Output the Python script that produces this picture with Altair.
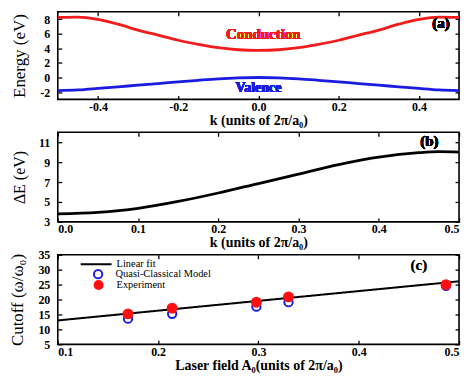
import altair as alt
import pandas as pd

FONT = "Liberation Serif"
RED = "#f21c1c"
BLUE = "#1c1ce0"

# ---------------- data ----------------
k_band = [-0.5, -0.45, -0.4, -0.35, -0.3, -0.25, -0.2, -0.15, -0.1, -0.05, 0.0,
          0.05, 0.1, 0.15, 0.2, 0.25, 0.3, 0.35, 0.4, 0.45, 0.5]
conduction = [8.22, 8.28, 7.95, 7.3, 6.5, 5.8, 5.1, 4.55, 4.1, 3.8, 3.7,
              3.8, 4.1, 4.55, 5.1, 5.8, 6.5, 7.3, 7.95, 8.28, 8.22]
valence = [-1.8, -1.7, -1.5, -1.28, -1.05, -0.83, -0.6, -0.38, -0.18, -0.05, 0.0,
           -0.05, -0.18, -0.38, -0.6, -0.83, -1.05, -1.28, -1.5, -1.7, -1.8]

k_gap = [0.0, 0.05, 0.1, 0.15, 0.2, 0.25, 0.3, 0.35, 0.4, 0.45, 0.475, 0.5]
delta_e = [3.8, 3.95, 4.35, 5.05, 5.9, 6.85, 7.8, 8.75, 9.5, 9.95, 10.05, 10.0]

fit_a0 = [0.1, 0.5]
fit_cutoff = [13.0, 26.1]
a0_points = [0.17, 0.214, 0.298, 0.33, 0.487]
qc_cutoff = [13.6, 15.2, 17.6, 19.1, 24.6]
exp_cutoff = [15.2, 17.1, 19.1, 20.9, 25.0]

ticks_k_a = [-0.4, -0.2, 0.0, 0.2, 0.4]
ticks_e_a = [-2, 0, 2, 4, 6, 8]
ticks_k_b = [0.0, 0.1, 0.2, 0.3, 0.4, 0.5]
ticks_de_b = [3, 5, 7, 9, 11]
ticks_a0_c = [0.1, 0.2, 0.3, 0.4, 0.5]
ticks_cut_c = [5, 10, 15, 20, 25, 30, 35]

W = 403
HA, HB, HC = 88, 90, 90
GAP = 33

tick_style = dict(domain=False, grid=False, tickSize=4, tickWidth=1.3,
                  tickColor="black", offset=-4)
label_style = dict(labelFont=FONT, labelFontSize=12, labelFontWeight="bold",
                   labelColor="black", titleFont=FONT, titleColor="black")


def lab_expr(fmt):
    return "replace(format(datum.value, '" + fmt + "'), '\u2212', '-')"


def xaxis(values, title, fmt, lp=2, tp=1):
    return alt.Axis(orient="bottom", values=values, title=title,
                    labelExpr=lab_expr(fmt), labelPadding=lp, titlePadding=tp,
                    titleFontSize=14, titleFontWeight="bold",
                    **tick_style, **label_style)


def yaxis(values, title, fmt, size=17, tp=11):
    return alt.Axis(orient="left", values=values, title=title,
                    labelExpr=lab_expr(fmt), labelPadding=8, titlePadding=tp,
                    titleFontSize=size, titleFontWeight="normal",
                    **tick_style, **label_style)


def mirror_x(values):
    return alt.Axis(orient="top", values=values, labels=False, title=None, **tick_style)


def mirror_y(values):
    return alt.Axis(orient="right", values=values, labels=False, title=None, **tick_style)


def label_layer(df, text, x, y, color, size):
    return alt.Chart(df).mark_text(text=text, font=FONT, fontSize=size,
                                   fontWeight="bold", color=color).encode(
        x=alt.XDatum(x, axis=None), y=alt.YDatum(y, axis=None))


# ---------------- panel (a) ----------------
df_a = pd.DataFrame({"k": k_band, "Conduction": conduction, "Valence": valence})
sx_a = alt.Scale(domain=[-0.5, 0.5], nice=False)
sy_a = alt.Scale(domain=[-3, 9], nice=False)
base_a = alt.Chart(df_a)
cond = base_a.mark_line(color=RED, strokeWidth=2.8, interpolate="monotone").encode(
    x=alt.X("k:Q", scale=sx_a, axis=xaxis(ticks_k_a, "k (units of 2\u03c0/a\u2080)", ".1f")),
    y=alt.Y("Conduction:Q", scale=sy_a, axis=yaxis(ticks_e_a, "Energy (eV)", "d")),
)
val = base_a.mark_line(color=BLUE, strokeWidth=2.8, interpolate="monotone").encode(
    x=alt.X("k:Q", scale=sx_a, axis=None),
    y=alt.Y("Valence:Q", scale=sy_a, axis=None),
)
mir_a = base_a.mark_line(opacity=0).encode(
    x=alt.X("k:Q", scale=sx_a, axis=mirror_x(ticks_k_a)),
    y=alt.Y("Conduction:Q", scale=sy_a, axis=mirror_y(ticks_e_a)),
)
panel_a = alt.layer(
    cond, val, mir_a,
    label_layer(df_a, "Conduction", 0.012, 6.0, RED, 15),
    label_layer(df_a, "Valence", 0.0, -1.4, BLUE, 14),
    label_layer(df_a, "(a)", 0.455, 7.4, "black", 15),
).resolve_axis(x="independent", y="independent").properties(width=W, height=HA)

# ---------------- panel (b) ----------------
df_b = pd.DataFrame({"kb": k_gap, "dE": delta_e})
sx_b = alt.Scale(domain=[0, 0.5], nice=False)
sy_b = alt.Scale(domain=[3, 12], nice=False)
base_b = alt.Chart(df_b)
gap_line = base_b.mark_line(color="black", strokeWidth=2.8, interpolate="monotone").encode(
    x=alt.X("kb:Q", scale=sx_b, axis=xaxis(ticks_k_b, "k (units of 2\u03c0/a\u2080)", ".1f")),
    y=alt.Y("dE:Q", scale=sy_b, axis=yaxis(ticks_de_b, "\u0394E (eV)", "d", size=16)),
)
mir_b = base_b.mark_line(opacity=0).encode(
    x=alt.X("kb:Q", scale=sx_b, axis=mirror_x(ticks_k_b)),
    y=alt.Y("dE:Q", scale=sy_b, axis=mirror_y(ticks_de_b)),
)
panel_b = alt.layer(
    gap_line, mir_b,
    label_layer(df_b, "(b)", 0.463, 11.1, "black", 15),
).resolve_axis(x="independent", y="independent").properties(width=W, height=HB)

# ---------------- panel (c) ----------------
df_fit = pd.DataFrame({"A0": fit_a0, "cut": fit_cutoff, "fit": ["Linear fit"] * 2})
df_qc = pd.DataFrame({"A0": a0_points, "cut": qc_cutoff,
                      "qc": ["Quasi-Classical Model"] * len(a0_points)})
df_ex = pd.DataFrame({"A0": a0_points, "cut": exp_cutoff,
                      "ex": ["Experiment"] * len(a0_points)})
sx_c = alt.Scale(domain=[0.1, 0.5], nice=False)
sy_c = alt.Scale(domain=[5, 35], nice=False)

# legends are placed relative to the top of the whole figure
C_TOP = HA + GAP + HB + GAP

leg_common = dict(orient="none", title=None, padding=0, labelFont=FONT,
                  labelFontSize=10.5, labelColor="black")

fit_line = alt.Chart(df_fit).mark_line(color="black", strokeWidth=2).encode(
    x=alt.X("A0:Q", scale=sx_c,
            axis=xaxis(ticks_a0_c, "Laser field A\u2080(units of 2\u03c0/a\u2080)", ".1f")),
    y=alt.Y("cut:Q", scale=sy_c,
            axis=yaxis(ticks_cut_c, "Cutoff (\u03c9/\u03c9\u2080)", "d", size=17)),
    strokeDash=alt.StrokeDash("fit:N", scale=alt.Scale(domain=["Linear fit"], range=[[1, 0]]),
                              legend=alt.Legend(legendX=22, legendY=C_TOP - 7,
                                                symbolType="stroke",
                                                symbolSize=961, symbolStrokeColor="black",
                                                symbolStrokeWidth=2, labelOffset=4,
                                                **leg_common)),
)
qc_pts = alt.Chart(df_qc).mark_point(shape="circle", filled=False, strokeWidth=2,
                                     size=70, opacity=1).encode(
    x=alt.X("A0:Q", scale=sx_c, axis=None),
    y=alt.Y("cut:Q", scale=sy_c, axis=None),
    stroke=alt.Stroke("qc:N", scale=alt.Scale(domain=["Quasi-Classical Model"], range=[BLUE]),
                      legend=alt.Legend(legendX=35, legendY=C_TOP + 14, symbolType="circle",
                                        symbolSize=70, symbolStrokeWidth=2,
                                        labelOffset=12, **leg_common)),
)
ex_pts = alt.Chart(df_ex).mark_point(shape="circle", filled=True, size=120,
                                     opacity=1, strokeWidth=0).encode(
    x=alt.X("A0:Q", scale=sx_c, axis=None),
    y=alt.Y("cut:Q", scale=sy_c, axis=None),
    fill=alt.Fill("ex:N", scale=alt.Scale(domain=["Experiment"], range=["#ff1010"]),
                  legend=alt.Legend(legendX=35, legendY=C_TOP + 24.5, symbolType="circle",
                                    symbolSize=100, labelOffset=12, **leg_common)),
)
mir_c = alt.Chart(df_fit).mark_line(opacity=0).encode(
    x=alt.X("A0:Q", scale=sx_c, axis=mirror_x(ticks_a0_c)),
    y=alt.Y("cut:Q", scale=sy_c, axis=mirror_y(ticks_cut_c)),
)
panel_c = alt.layer(
    fit_line, qc_pts, ex_pts, mir_c,
    label_layer(df_fit, "(c)", 0.46, 31.5, "black", 15),
).resolve_axis(x="independent", y="independent").properties(width=W, height=HC)

chart = alt.vconcat(panel_a, panel_b, panel_c, spacing=GAP, bounds="flush").resolve_scale(
    x="independent", y="independent").properties(
    padding={"left": 0, "top": 1, "right": 0, "bottom": 0}
).configure_view(stroke="black", strokeWidth=1.6)

chart.save("out.html", embed_options={"renderer": "svg", "actions": False})
